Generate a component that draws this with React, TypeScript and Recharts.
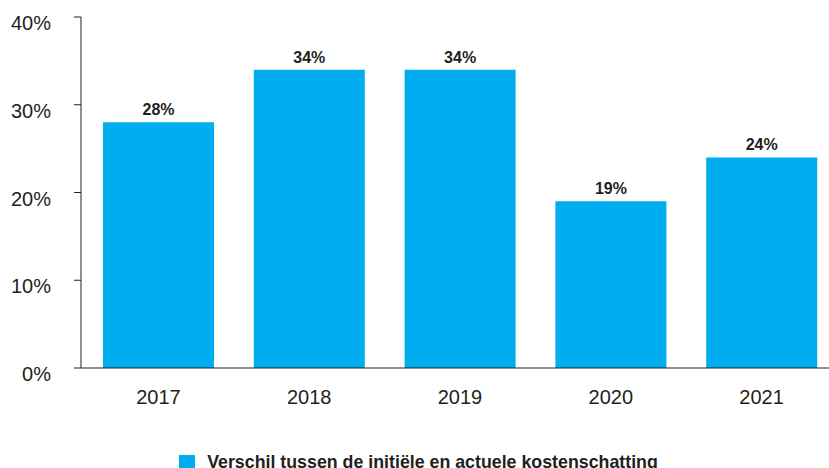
import { BarChart, Bar, XAxis, YAxis, LabelList, Legend } from 'recharts';

const years = ['2017', '2018', '2019', '2020', '2021'];
const verschil = [28, 34, 34, 19, 24];
const yTicks = [0, 10, 20, 30, 40];

const SERIES_NAME = 'Verschil tussen de initiële en actuele kostenschatting';
const BLUE = '#00AEEF';
const INK = '#231F20';
const FONT = '"Liberation Sans", Arial, Helvetica, sans-serif';

const data = years.map((year, i) => ({ year, value: verschil[i] }));

const YTick = ({ x, y, payload }: any) => (
  <text x={x} y={y + 13} textAnchor="end" fontSize={20} fill={INK} fontFamily={FONT}>
    {`${payload.value}%`}
  </text>
);

const XTick = ({ x, y, payload }: any) => (
  <text x={x} y={y + 14} textAnchor="middle" fontSize={20} fill={INK} fontFamily={FONT}>
    {payload.value}
  </text>
);

const LegendContent = () => (
  <div style={{ display: 'flex', alignItems: 'center', justifyContent: 'center', gap: 12 }}>
    <span style={{ width: 16, height: 16, background: BLUE, display: 'inline-block' }} />
    <span style={{ fontFamily: FONT, fontWeight: 700, fontSize: 17.8, color: INK }}>{SERIES_NAME}</span>
  </div>
);

export default function App() {
  return (
    <div
      style={{
        position: 'absolute',
        left: 0,
        top: 0,
        width: 829,
        height: 468,
        overflow: 'hidden',
        background: '#fff',
      }}
    >
      <BarChart
        width={840}
        height={468}
        data={data}
        margin={{ top: 17, right: 3, left: 0, bottom: 39 }}
      >
        <YAxis
          width={81}
          domain={[0, 40]}
          ticks={yTicks}
          tick={<YTick />}
          tickSize={7}
          tickMargin={23}
          stroke={INK}
          interval={0}
        />
        <XAxis
          dataKey="year"
          tick={<XTick />}
          tickLine={false}
          tickSize={0}
          tickMargin={22}
          height={40}
          stroke={INK}
          padding={{ left: 2, right: 0 }}
        />
        <Legend
          verticalAlign="bottom"
          content={<LegendContent />}
          wrapperStyle={{ bottom: -5 }}
        />
        <Bar dataKey="value" name={SERIES_NAME} fill={BLUE} barSize={111} isAnimationActive={false}>
          <LabelList
            dataKey="value"
            position="top"
            offset={7}
            formatter={(v: any) => `${v}%`}
            style={{ fontFamily: FONT, fontWeight: 700, fontSize: 16, fill: INK }}
          />
        </Bar>
      </BarChart>
    </div>
  );
}
